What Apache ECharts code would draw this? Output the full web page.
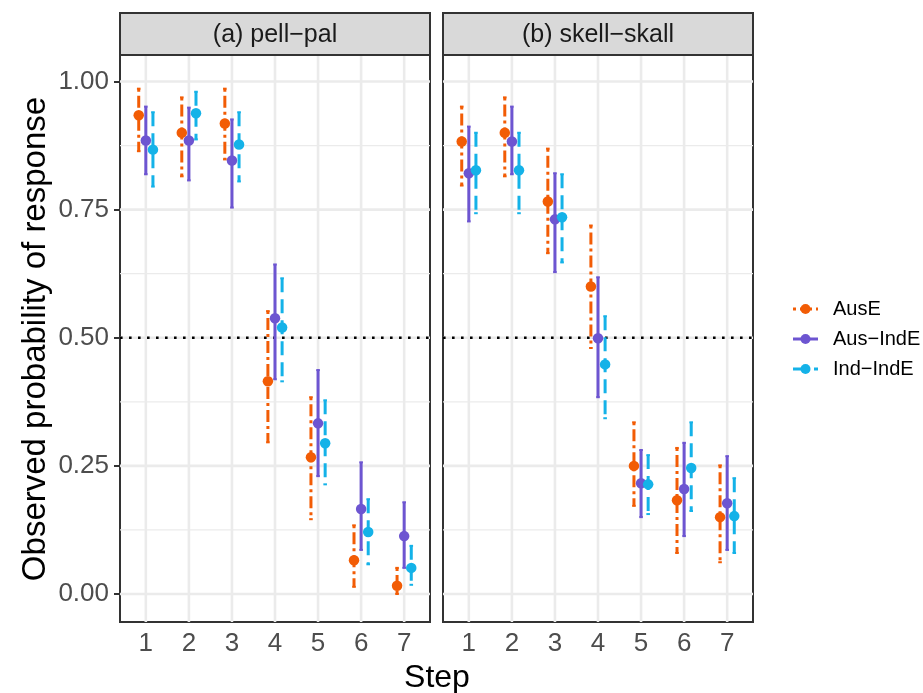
<!DOCTYPE html>
<html><head><meta charset="utf-8">
<script src="https://cdn.jsdelivr.net/npm/echarts@6/dist/echarts.min.js"></script>
<style>html,body{margin:0;padding:0;background:#fff}#c{width:923px;height:693px}</style>
</head><body><div id="c"></div>
<script>
// ---- data ----
const steps = [1, 2, 3, 4, 5, 6, 7];
const yTicks = [0, 0.25, 0.5, 0.75, 1];
const yMinor = [0.125, 0.375, 0.625, 0.875];
const groups = ['AusE', 'Aus\u2212IndE', 'Ind\u2212IndE'];
const panels = ['(a) pell\u2212pal', '(b) skell\u2212skall'];

// panel (a) pell-pal
const a_AusE_mean    = [0.934, 0.900, 0.918, 0.415, 0.267, 0.066, 0.016];
const a_AusE_lo      = [0.864, 0.815, 0.848, 0.296, 0.146, 0.014, 0.000];
const a_AusE_hi      = [0.986, 0.969, 0.986, 0.552, 0.384, 0.134, 0.051];
const a_AusIndE_mean = [0.885, 0.885, 0.846, 0.538, 0.333, 0.166, 0.113];
const a_AusIndE_lo   = [0.819, 0.807, 0.754, 0.419, 0.230, 0.086, 0.051];
const a_AusIndE_hi   = [0.951, 0.949, 0.926, 0.643, 0.437, 0.257, 0.179];
const a_IndIndE_mean = [0.867, 0.938, 0.877, 0.520, 0.294, 0.121, 0.051];
const a_IndIndE_lo   = [0.795, 0.887, 0.805, 0.415, 0.214, 0.058, 0.018];
const a_IndIndE_hi   = [0.940, 0.980, 0.940, 0.616, 0.378, 0.185, 0.094];

// panel (b) skell-skall
const b_AusE_mean    = [0.883, 0.900, 0.766, 0.600, 0.250, 0.183, 0.150];
const b_AusE_lo      = [0.797, 0.815, 0.665, 0.480, 0.172, 0.080, 0.062];
const b_AusE_hi      = [0.951, 0.969, 0.869, 0.719, 0.335, 0.285, 0.251];
const b_AusIndE_mean = [0.821, 0.883, 0.731, 0.499, 0.216, 0.205, 0.177];
const b_AusIndE_lo   = [0.727, 0.819, 0.628, 0.384, 0.150, 0.113, 0.086];
const b_AusIndE_hi   = [0.912, 0.951, 0.821, 0.618, 0.281, 0.295, 0.269];
const b_IndIndE_mean = [0.827, 0.827, 0.735, 0.448, 0.214, 0.246, 0.152];
const b_IndIndE_lo   = [0.743, 0.743, 0.647, 0.343, 0.156, 0.162, 0.080];
const b_IndIndE_hi   = [0.900, 0.900, 0.819, 0.542, 0.271, 0.335, 0.226];

const refLine = 0.5;

// ---- styles ----
const FONT = '"Liberation Sans", Arial, sans-serif';
const colors = ['#F25C05', '#6D55D1', '#14B2E8'];
const dashes = [[3, 4, 12, 4], null, [14, 7]];
const offsets = [-0.165, 0, 0.165];
const LW = 3;

const panelData = [
  [[a_AusE_mean, a_AusE_lo, a_AusE_hi], [a_AusIndE_mean, a_AusIndE_lo, a_AusIndE_hi], [a_IndIndE_mean, a_IndIndE_lo, a_IndIndE_hi]],
  [[b_AusE_mean, b_AusE_lo, b_AusE_hi], [b_AusIndE_mean, b_AusIndE_lo, b_AusIndE_hi], [b_IndIndE_mean, b_IndIndE_lo, b_IndIndE_hi]]
];

const gridDefs = [
  {left: 120, top: 55, width: 310, height: 567},
  {left: 443, top: 55, width: 310, height: 567}
];
const YMIN = -0.0546, YMAX = 1.0517;

const grids = gridDefs.map(g => Object.assign({show: true, borderColor: '#333333', borderWidth: 2, backgroundColor: '#ffffff', containLabel: false}, g));

const xAxes = gridDefs.map((g, i) => ({
  gridIndex: i, type: 'value', min: 0.4, max: 7.6,
  axisLine: {show: false}, splitLine: {show: false},
  axisTick: {show: true, customValues: steps, length: 6, lineStyle: {color: '#333333', width: 2}},
  axisLabel: {customValues: steps, fontSize: 26, color: '#4D4D4D', margin: 9, fontFamily: FONT}
}));
const yAxes = gridDefs.map((g, i) => ({
  gridIndex: i, type: 'value', min: YMIN, max: YMAX,
  axisLine: {show: false}, splitLine: {show: false},
  axisTick: {show: i === 0, customValues: yTicks, length: 6, lineStyle: {color: '#333333', width: 2}},
  axisLabel: {show: i === 0, customValues: yTicks, fontSize: 26, color: '#4D4D4D', margin: 11, fontFamily: FONT,
    formatter: v => Number(v).toFixed(2)}
}));

const series = [];
for (let p = 0; p < 2; p++) {
  // horizontal gridlines
  series.push({
    type: 'custom', xAxisIndex: p, yAxisIndex: p, silent: true, z: 1,
    data: yTicks.map(v => [0.4, v, 1]).concat(yMinor.map(v => [0.4, v, 0])),
    renderItem: (params, api) => {
      const cs = params.coordSys;
      const y = api.coord([1, api.value(1)])[1];
      return {type: 'line', shape: {x1: cs.x, y1: y, x2: cs.x + cs.width, y2: y},
        style: {stroke: '#EBEBEB', lineWidth: api.value(2) ? 2.6 : 1.3}};
    }
  });
  // vertical gridlines
  series.push({
    type: 'custom', xAxisIndex: p, yAxisIndex: p, silent: true, z: 1,
    data: steps.map(s => [s, 0.5]),
    renderItem: (params, api) => {
      const cs = params.coordSys;
      const x = api.coord([api.value(0), 0.5])[0];
      return {type: 'line', shape: {x1: x, y1: cs.y, x2: x, y2: cs.y + cs.height},
        style: {stroke: '#EBEBEB', lineWidth: 2.6}};
    }
  });
  // dotted reference line
  series.push({
    type: 'custom', xAxisIndex: p, yAxisIndex: p, silent: true, z: 2,
    data: [[1, refLine]],
    renderItem: (params, api) => {
      const cs = params.coordSys;
      const y = api.coord([1, api.value(1)])[1];
      return {type: 'line', shape: {x1: cs.x, y1: y, x2: cs.x + cs.width, y2: y},
        style: {stroke: '#000000', lineWidth: 2.6, lineDash: [2.6, 6.4]}};
    }
  });
  // error bars
  for (let g = 0; g < 3; g++) {
    const [mean, lo, hi] = panelData[p][g];
    const off = offsets[g], col = colors[g], dash = dashes[g];
    series.push({
      type: 'custom', name: groups[g], xAxisIndex: p, yAxisIndex: p, silent: true, z: 3,
      data: steps.map((s, i) => [s, lo[i], hi[i]]),
      renderItem: (params, api) => {
        const x = api.value(0) + off;
        const top = api.coord([x, api.value(2)]);
        const bot = api.coord([x, api.value(1)]);
        const st = {stroke: col, lineWidth: LW};
        if (dash) st.lineDash = dash;
        return {type: 'group', children: [
          {type: 'line', shape: {x1: top[0], y1: top[1], x2: bot[0], y2: bot[1]}, style: st},
          {type: 'line', shape: {x1: top[0] - 1.8, y1: top[1], x2: top[0] + 1.8, y2: top[1]}, style: {stroke: col, lineWidth: 2}},
          {type: 'line', shape: {x1: bot[0] - 1.8, y1: bot[1], x2: bot[0] + 1.8, y2: bot[1]}, style: {stroke: col, lineWidth: 2}}
        ]};
      }
    });
  }
  // points
  for (let g = 0; g < 3; g++) {
    const [mean] = panelData[p][g];
    series.push({
      type: 'scatter', name: groups[g], xAxisIndex: p, yAxisIndex: p, z: 4, silent: true,
      symbol: 'circle', symbolSize: 10.5,
      itemStyle: {color: colors[g], opacity: 1},
      data: steps.map((s, i) => [s + offsets[g], mean[i]])
    });
  }
}

// graphics: strips, axis titles, legend
const graphics = [];
gridDefs.forEach((g, i) => {
  graphics.push({type: 'rect', shape: {x: g.left, y: 13, width: g.width, height: 42},
    style: {fill: '#D9D9D9', stroke: '#333333', lineWidth: 2}, z: 10});
  graphics.push({type: 'text', x: g.left + g.width / 2, y: 35,
    style: {text: panels[i], font: '25px ' + FONT, fill: '#1A1A1A', align: 'center', verticalAlign: 'middle'}, z: 11});
});
graphics.push({type: 'text', x: 36, y: 339, rotation: Math.PI / 2,
  style: {text: 'Observed probability of response', font: '33px ' + FONT, fill: '#000000', align: 'center', verticalAlign: 'middle'}});
graphics.push({type: 'text', x: 437, y: 678,
  style: {text: 'Step', font: '32px ' + FONT, fill: '#000000', align: 'center', verticalAlign: 'middle'}});
const legY = [309, 339, 369];
groups.forEach((name, g) => {
  const ls = {stroke: colors[g], lineWidth: LW};
  if (dashes[g]) ls.lineDash = dashes[g];
  graphics.push({type: 'line', shape: {x1: 793, y1: legY[g], x2: 818, y2: legY[g]}, style: ls});
  graphics.push({type: 'circle', shape: {cx: 805.5, cy: legY[g], r: 5}, style: {fill: colors[g]}});
  graphics.push({type: 'text', x: 833, y: legY[g],
    style: {text: name, font: '20px ' + FONT, fill: '#000000', align: 'left', verticalAlign: 'middle'}});
});

const chart = echarts.init(document.getElementById('c'), null, {renderer: 'canvas'});
chart.setOption({
  backgroundColor: '#ffffff',
  animation: false,
  grid: grids,
  xAxis: xAxes,
  yAxis: yAxes,
  series: series,
  graphic: graphics
});
</script></body></html>
